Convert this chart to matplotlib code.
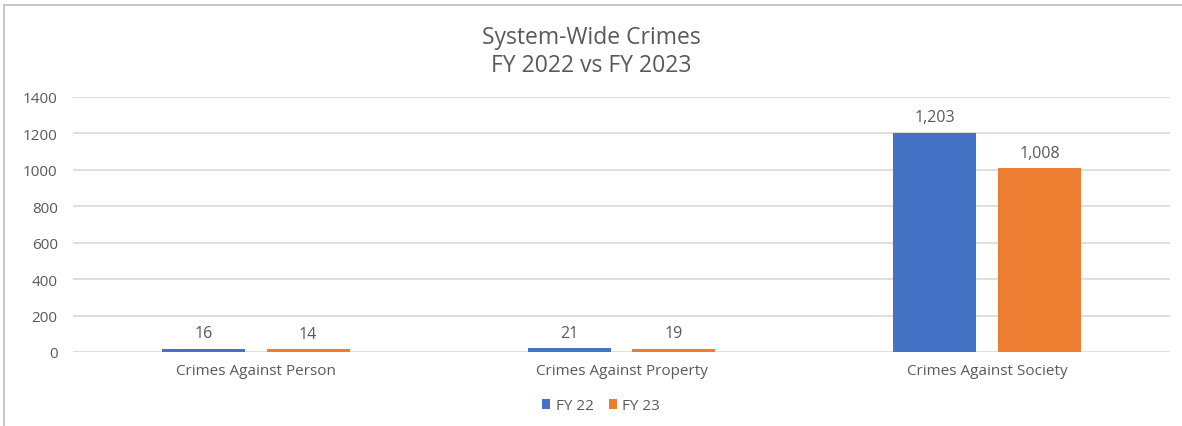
import matplotlib
matplotlib.use("Agg")
import matplotlib.pyplot as plt
from matplotlib.lines import Line2D
import numpy as np

categories = ["Crimes Against Person", "Crimes Against Property", "Crimes Against Society"]
fy22 = [16, 21, 1203]
fy23 = [14, 19, 1008]
series_names = ["FY 22", "FY 23"]
yticks = [0, 200, 400, 600, 800, 1000, 1200, 1400]

plt.rcParams['font.family'] = ['Open Sans', 'DejaVu Sans']
text_color = "#595959"
blue = "#4472C4"
orange = "#ED7D31"

W, H = 1182, 427
fig = plt.figure(figsize=(W / 100, H / 100), dpi=100)
ax = fig.add_axes([73 / W, 1 - 353 / H, (1170 - 73) / W, (353 - 98) / H])

x = np.arange(len(categories))
width = 0.227
offset = 0.143
b1 = ax.bar(x - offset, fy22, width, color=blue, label=series_names[0], zorder=3)
b2 = ax.bar(x + offset, fy23, width, color=orange, label=series_names[1], zorder=3)

for bars, vals in ((b1, fy22), (b2, fy23)):
    for rect, v in zip(bars, vals):
        ax.annotate(f"{v:,}", (rect.get_x() + rect.get_width() / 2, v),
                    xytext=(0, 5.5), textcoords="offset points",
                    ha="center", va="bottom", fontsize=11.5, color=text_color)

ax.set_xlim(-0.5, len(categories) - 0.5)
ax.set_ylim(0, 1400)
ax.set_yticks(yticks)
ax.set_yticklabels([str(t) for t in yticks])
ax.set_xticks(x)
ax.set_xticklabels(categories)
ax.tick_params(axis="both", length=0, colors=text_color, labelsize=11)
ax.tick_params(axis="y", pad=11)
ax.tick_params(axis="x", pad=8)
ax.yaxis.grid(True, color="#d9d9d9", linewidth=1.2, zorder=0)
for s in ax.spines.values():
    s.set_visible(False)

fig.text(0.5, 1 - 38 / H, "System-Wide Crimes", ha="center", va="center",
         fontsize=16.5, color=text_color)
fig.text(0.5, 1 - 66 / H, "FY 2022 vs FY 2023", ha="center", va="center",
         fontsize=16.5, color=text_color)

leg = fig.legend(handles=[b1, b2], labels=series_names, loc="center",
                 bbox_to_anchor=(601 / W, 1 - 407 / H), ncol=2, frameon=False,
                 fontsize=11, handlelength=0.55, handleheight=0.55,
                 handletextpad=0.35, columnspacing=1.0)
for t in leg.get_texts():
    t.set_color(text_color)

# frame lines along the top and left edges of the chart
fig.add_artist(Line2D([4 / W, 1], [1 - 6 / H, 1 - 6 / H], transform=fig.transFigure,
                      color="#bfbfbf", linewidth=1.2))
fig.add_artist(Line2D([4 / W, 4 / W], [0, 1 - 6 / H], transform=fig.transFigure,
                      color="#bfbfbf", linewidth=1.2))

fig.savefig("out.png", dpi=100, facecolor="white")
